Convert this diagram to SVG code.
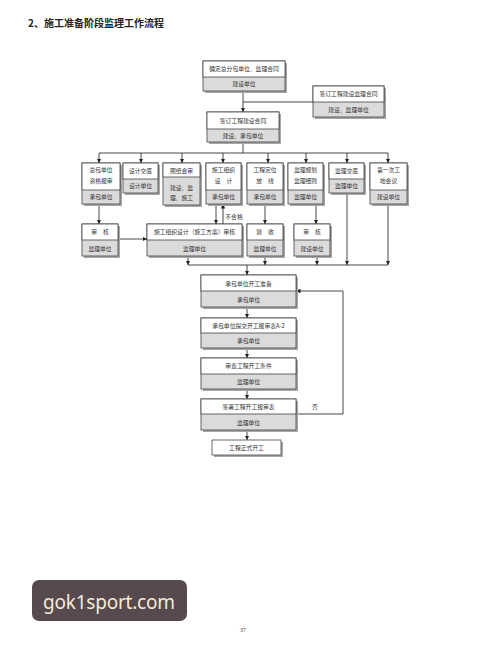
<svg xmlns="http://www.w3.org/2000/svg" width="487" height="652" viewBox="0 0 487 652">
<defs>
<marker id="ah" viewBox="0 0 10 10" refX="10" refY="5" markerWidth="4.5" markerHeight="4.5" markerUnits="userSpaceOnUse" orient="auto"><path d="M0,0 L10,5 L0,10 z" fill="#222"/></marker>
</defs>
<style>
.sh{fill:#a8a8a8}
.bo{fill:#dcdbdb;stroke:#444;stroke-width:0.8}
.tp{fill:#fff;stroke:#444;stroke-width:0.8}
.t{font-family:"Noto Sans CJK SC","Noto Sans",sans-serif;font-size:5.8px;fill:#333;text-anchor:middle}
.ln{stroke:#333;stroke-width:0.9;fill:none}
.ar{stroke:#333;stroke-width:0.9;fill:none;marker-end:url(#ah)}
</style>
<rect width="487" height="652" fill="#fff"/>
<text x="28" y="27" style="font-family:'Noto Sans CJK SC',sans-serif;font-size:10px;font-weight:bold;fill:#222">2、施工准备阶段监理工作流程</text>

<g id="connectors">
<line class="ar" x1="243" y1="91" x2="243" y2="112"/>
<line class="ln" x1="243" y1="102" x2="313" y2="102"/>
<line class="ln" x1="243" y1="142" x2="243" y2="153"/>
<line class="ln" x1="99" y1="153" x2="388" y2="153"/>
<line class="ar" x1="99" y1="153" x2="99" y2="163"/>
<line class="ar" x1="141" y1="153" x2="141" y2="163"/>
<line class="ar" x1="182" y1="153" x2="182" y2="163"/>
<line class="ar" x1="223" y1="153" x2="223" y2="163"/>
<line class="ar" x1="268" y1="153" x2="268" y2="163"/>
<line class="ar" x1="306" y1="153" x2="306" y2="163"/>
<line class="ar" x1="347" y1="153" x2="347" y2="163"/>
<line class="ar" x1="388" y1="153" x2="388" y2="163"/>
<line class="ar" x1="99" y1="204" x2="99" y2="224"/>
<line class="ar" x1="118" y1="239" x2="147" y2="239"/>
<line class="ar" x1="216" y1="204" x2="216" y2="224"/>
<line class="ar" x1="223" y1="224" x2="223" y2="204"/>
<line class="ar" x1="265" y1="204" x2="265" y2="224"/>
<line class="ar" x1="316" y1="204" x2="316" y2="224"/>
<line class="ln" x1="188" y1="265" x2="388" y2="265"/>
<line class="ar" x1="188" y1="256" x2="188" y2="265"/>
<line class="ar" x1="265" y1="256" x2="265" y2="265"/>
<line class="ar" x1="317" y1="256" x2="317" y2="265"/>
<line class="ar" x1="347" y1="193" x2="347" y2="265"/>
<line class="ar" x1="388" y1="204" x2="388" y2="265"/>
<line class="ar" x1="247" y1="265" x2="247" y2="275"/>
<line class="ar" x1="247" y1="307" x2="247" y2="318"/>
<line class="ar" x1="247" y1="348" x2="247" y2="358"/>
<line class="ar" x1="247" y1="389" x2="247" y2="399"/>
<line class="ar" x1="247" y1="430" x2="247" y2="440"/>
<polyline class="ar" points="296,414 343,414 343,291 296,291"/>
<text class="t" x="234" y="219">不合格</text>
<text class="t" x="315" y="409">否</text>
</g>

<g id="n-a"><rect class="sh" x="205" y="63" width="82" height="30"/><rect class="bo" x="203" y="61" width="82" height="30"/><rect class="tp" x="203" y="61" width="82" height="16"/><text class="t" x="244" y="71">确定总分包单位、监理合同</text><text class="t" x="244" y="86">建设单位</text></g>
<g id="n-b"><rect class="sh" x="315" y="88" width="71" height="31"/><rect class="bo" x="313" y="86" width="71" height="31"/><rect class="tp" x="313" y="86" width="71" height="16"/><text class="t" x="348.5" y="96">签订工程建设监理合同</text><text class="t" x="348.5" y="111.5">建设、监理单位</text></g>
<g id="n-c"><rect class="sh" x="209" y="114" width="72" height="30"/><rect class="bo" x="207" y="112" width="72" height="30"/><rect class="tp" x="207" y="112" width="72" height="17"/><text class="t" x="243" y="122.5">签订工程建设合同</text><text class="t" x="243" y="137.5">建设、承包单位</text></g>

<g id="n-r1"><rect class="sh" x="84" y="165" width="38" height="41"/><rect class="bo" x="82" y="163" width="38" height="41"/><rect class="tp" x="82" y="163" width="38" height="27"/><text class="t" x="101" y="172">总包单位</text><text class="t" x="101" y="182.5">资格报审</text><text class="t" x="101" y="199">承包单位</text></g>
<g id="n-r2"><rect class="sh" x="125" y="165" width="35" height="30"/><rect class="bo" x="123" y="163" width="35" height="30"/><rect class="tp" x="123" y="163" width="35" height="16"/><text class="t" x="140.5" y="173">设计交底</text><text class="t" x="140.5" y="188">设计单位</text></g>
<g id="n-r3"><rect class="sh" x="165" y="165" width="37" height="42"/><rect class="bo" x="163" y="163" width="37" height="42"/><rect class="tp" x="163" y="163" width="37" height="14"/><text class="t" x="181.5" y="172.5">图纸会审</text><text class="t" x="181.5" y="190">建设、监</text><text class="t" x="181.5" y="200">理、施工</text></g>
<g id="n-r4"><rect class="sh" x="208" y="165" width="35" height="41"/><rect class="bo" x="206" y="163" width="35" height="41"/><rect class="tp" x="206" y="163" width="35" height="27"/><text class="t" x="223.5" y="172">施工组织</text><text class="t" x="223.5" y="182.5">设　计</text><text class="t" x="223.5" y="199">承包单位</text></g>
<g id="n-r5"><rect class="sh" x="249" y="165" width="36" height="41"/><rect class="bo" x="247" y="163" width="36" height="41"/><rect class="tp" x="247" y="163" width="36" height="27"/><text class="t" x="265" y="172">工程定位</text><text class="t" x="265" y="182.5">放　线</text><text class="t" x="265" y="199">承包单位</text></g>
<g id="n-r6"><rect class="sh" x="290" y="165" width="35" height="41"/><rect class="bo" x="288" y="163" width="35" height="41"/><rect class="tp" x="288" y="163" width="35" height="27"/><text class="t" x="305.5" y="172">监理规划</text><text class="t" x="305.5" y="182.5">监理细则</text><text class="t" x="305.5" y="199">监理单位</text></g>
<g id="n-r7"><rect class="sh" x="331" y="165" width="35" height="30"/><rect class="bo" x="329" y="163" width="35" height="30"/><rect class="tp" x="329" y="163" width="35" height="16"/><text class="t" x="346.5" y="173">监理交底</text><text class="t" x="346.5" y="188">监理单位</text></g>
<g id="n-r8"><rect class="sh" x="372" y="165" width="37" height="41"/><rect class="bo" x="370" y="163" width="37" height="41"/><rect class="tp" x="370" y="163" width="37" height="27"/><text class="t" x="388.5" y="172">第一次工</text><text class="t" x="388.5" y="182.5">地会议</text><text class="t" x="388.5" y="199">建设单位</text></g>

<g id="n-s1"><rect class="sh" x="84" y="226" width="36" height="32"/><rect class="bo" x="82" y="224" width="36" height="32"/><rect class="tp" x="82" y="224" width="36" height="16"/><text class="t" x="100" y="234">审　核</text><text class="t" x="100" y="250.5">监理单位</text></g>
<g id="n-s2"><rect class="sh" x="149" y="226" width="95" height="32"/><rect class="bo" x="147" y="224" width="95" height="32"/><rect class="tp" x="147" y="224" width="95" height="16"/><text class="t" x="194.5" y="234">施工组织设计（施工方案）审核</text><text class="t" x="194.5" y="250.5">监理单位</text></g>
<g id="n-s3"><rect class="sh" x="249" y="226" width="36" height="32"/><rect class="bo" x="247" y="224" width="36" height="32"/><rect class="tp" x="247" y="224" width="36" height="16"/><text class="t" x="265" y="234">验　收</text><text class="t" x="265" y="250.5">监理单位</text></g>
<g id="n-s4"><rect class="sh" x="296" y="226" width="36" height="32"/><rect class="bo" x="294" y="224" width="36" height="32"/><rect class="tp" x="294" y="224" width="36" height="16"/><text class="t" x="312" y="234">审　核</text><text class="t" x="312" y="250.5">建设单位</text></g>

<g id="n-l1"><rect class="sh" x="203" y="277" width="95" height="32"/><rect class="bo" x="201" y="275" width="95" height="32"/><rect class="tp" x="201" y="275" width="95" height="16"/><text class="t" x="248.5" y="285.5">承包单位开工准备</text><text class="t" x="248.5" y="301.5">承包单位</text></g>
<g id="n-l2"><rect class="sh" x="203" y="320" width="95" height="30"/><rect class="bo" x="201" y="318" width="95" height="30"/><rect class="tp" x="201" y="318" width="95" height="15"/><text class="t" x="248.5" y="328">承包单位提交开工报审表A-2</text><text class="t" x="248.5" y="343">承包单位</text></g>
<g id="n-l3"><rect class="sh" x="203" y="360" width="95" height="31"/><rect class="bo" x="201" y="358" width="95" height="31"/><rect class="tp" x="201" y="358" width="95" height="16"/><text class="t" x="248.5" y="368">审查工程开工条件</text><text class="t" x="248.5" y="384">监理单位</text></g>
<g id="n-l4"><rect class="sh" x="203" y="401" width="95" height="31"/><rect class="bo" x="201" y="399" width="95" height="31"/><rect class="tp" x="201" y="399" width="95" height="15"/><text class="t" x="248.5" y="409">签署工程开工报审表</text><text class="t" x="248.5" y="424.5">监理单位</text></g>
<g id="n-l5"><rect class="sh" x="214" y="442" width="69" height="15"/><rect class="tp" x="212" y="440" width="69" height="15"/><text class="t" x="246.5" y="449.5">工程正式开工</text></g>

<g id="watermark"><rect x="32" y="580" width="155" height="41" rx="7" fill="#574a4f"/><text x="43" y="609" style="font-family:'Noto Sans',sans-serif;font-size:19px;fill:#f3e9d6" textLength="132">gok1sport.com</text></g>
<text x="243" y="632" style="font-family:'Liberation Serif',serif;font-size:6px;fill:#444;text-anchor:middle">37</text>
</svg>
